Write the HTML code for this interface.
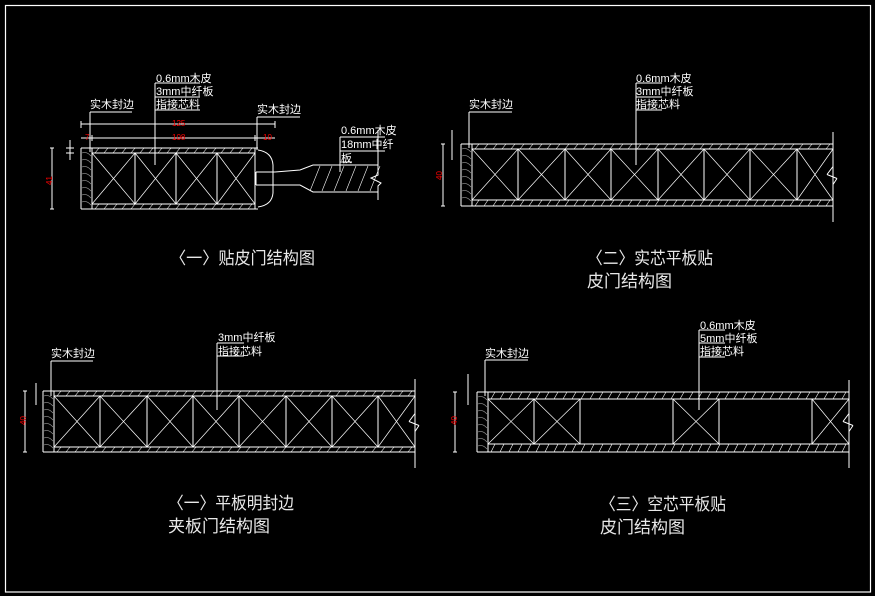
<!DOCTYPE html>
<html><head><meta charset="utf-8"><style>
html,body{margin:0;padding:0;background:#000;}
svg{display:block}
text{font-family:"Liberation Sans","Noto Sans CJK SC",sans-serif;fill:#fff}
.t{font-size:17px;fill:#e8e8e8}
.s{font-size:11px}
.r{fill:#f00;font-size:8px}
</style></head><body>
<svg id="s" width="875" height="596" viewBox="0 0 875 596" xmlns="http://www.w3.org/2000/svg">
<rect x="5.5" y="5.5" width="865" height="586.5" fill="none" stroke="#fff" stroke-width="1.2"/>
<g id="g" stroke="#fff" stroke-width="1" fill="none"></g>

<text class="s" x="156" y="82">0.6mm木皮</text>
<text class="s" x="156" y="95">3mm中纤板</text>
<text class="s" x="156" y="108">指接芯料</text>
<text class="s" x="90" y="108">实木封边</text>
<text class="s" x="257" y="113">实木封边</text>
<text class="s" x="341" y="134">0.6mm木皮</text>
<text class="s" x="341" y="148">18mm中纤</text>
<text class="s" x="341" y="162">板</text>
<text class="r" x="172" y="126">125</text>
<text class="r" x="172" y="140">108</text>
<text class="r" x="85" y="140">7</text>
<text class="r" x="263" y="140">10</text>
<text class="r" x="0" y="0" transform="translate(52,185) rotate(-90)">41</text>

<text class="s" x="636" y="82">0.6mm木皮</text>
<text class="s" x="636" y="95">3mm中纤板</text>
<text class="s" x="636" y="108">指接芯料</text>
<text class="s" x="469" y="108">实木封边</text>
<text class="r" x="0" y="0" transform="translate(442,180) rotate(-90)">40</text>

<text class="s" x="218" y="341">3mm中纤板</text>
<text class="s" x="218" y="355">指接芯料</text>
<text class="s" x="51" y="357">实木封边</text>
<text class="r" x="0" y="0" transform="translate(26,425) rotate(-90)">40</text>

<text class="s" x="700" y="329">0.6mm木皮</text>
<text class="s" x="700" y="342">5mm中纤板</text>
<text class="s" x="700" y="355">指接芯料</text>
<text class="s" x="485" y="357">实木封边</text>
<text class="r" x="0" y="0" transform="translate(457,425) rotate(-90)">40</text>

<text class="t" x="170" y="264" textLength="145" lengthAdjust="spacingAndGlyphs">〈一〉贴皮门结构图</text>
<text class="t" x="587" y="264" textLength="126" lengthAdjust="spacingAndGlyphs">〈二〉实芯平板贴</text>
<text class="t" x="587" y="287">皮门结构图</text>
<text class="t" x="168" y="509" textLength="126" lengthAdjust="spacingAndGlyphs">〈一〉平板明封边</text>
<text class="t" x="168" y="532">夹板门结构图</text>
<text class="t" x="600" y="510" textLength="126" lengthAdjust="spacingAndGlyphs">〈三〉空芯平板贴</text>
<text class="t" x="600" y="533">皮门结构图</text>
</svg>
<script>
var g=document.getElementById('g'),o='';
function L(a,b,c,d,w){o+='<line x1="'+a+'" y1="'+b+'" x2="'+c+'" y2="'+d+'"'+(w?' stroke-width="'+w+'"':'')+'/>';}
function H(x1,x2,y1,y2){for(var x=x1+3;x<x2-2;x+=9)L(x,y2,x+4,y1,0.6);}
function X(a,b,y1,y2){L(a,y1,a,y2);L(b,y1,b,y2);L(a,y1,b,y2,0.7);L(b,y1,a,y2,0.7);}
function wood(x1,x2,y1,y2){for(var y=y1+5;y<y2-2;y+=7)o+='<path stroke="#999" stroke-width="0.6" d="M'+(x1+1)+' '+y+' Q'+((x1+x2)/2)+' '+(y-2)+' '+(x2-1)+' '+(y+3)+'"/>';}
function panel(x0,xe,yt,yt2,yb2,yb,core,divs,cut,empty){
  L(x0,yt,xe,yt);L(x0,yb,xe,yb);L(core,yt2,xe,yt2);L(core,yb2,xe,yb2);
  L(x0,yt,x0,yb);L(core,yt,core,yb);
  wood(x0,core,yt,yb);
  H(core,xe,yt,yt2);H(core,xe,yb2,yb);
  for(var i=0;i<divs.length-1;i++){if(empty&&empty.indexOf(i)>=0){L(divs[i],yt2,divs[i],yb2);L(divs[i+1],yt2,divs[i+1],yb2);continue;}X(divs[i],divs[i+1],yt2,yb2);}
  var m=(yt2+yb2)/2;
  L(xe,yt2,xe,m-8);L(xe,m-8,xe-6,m);L(xe-6,m,xe+4,m+4);L(xe+4,m+4,xe,m+10);L(xe,m+10,xe,yb2);
  L(cut,yt-12,cut,yb+16);
}
L(81,148,258,148);L(81,209,258,209);L(92,153,255,153);L(92,204,255,204);
L(81,148,81,209);L(92,148,92,209);L(255,148,255,209);
wood(81,92,148,209);H(92,255,148,153);H(92,255,204,209);
var d=[92,135,176,217,255];for(var i=0;i<4;i++)X(d[i],d[i+1],153,204);
o+='<path d="M258 150 Q272 152 273 165 L273 193 Q272 205 258 207" />';
L(256,172,275,172);L(256,185,275,185);L(256,172,256,185);
o+='<path d="M275 172 L300 170 L313 165 L378 165 M275 185 L300 185 L313 192 L378 192"/>';
for(var x=310;x<375;x+=12)L(x,191,x+10,166,0.6);
o+='<path d="M378 165 L378 175 L371 178 L381 183 L378 186 L378 192 M378 192 L378 200"/>';L(378,130,378,165);
L(81,124,275,124);L(81,121,81,128);L(275,121,275,128);
L(81,138,275,138);L(92,135,92,141);L(255,135,255,141);
L(52,148,52,209);L(50,148,54,148);L(50,209,54,209);
L(70,140,70,160);L(66,148,74,148);L(66,153,74,153);
L(90,112,132,112);L(90,112,90,152);L(155,83,200,83);L(155,97,200,97);L(155,110,200,110);L(155,83,155,165);
L(257,117,300,117);L(257,117,257,150);L(340,137,385,137);L(340,151,385,151);L(340,137,340,172);L(340,162,352,162);
panel(461,833,144,149,200,206,472,[472,518,565,611,658,704,750,797,833],833);
L(469,112,512,112);L(469,112,469,148);L(636,83,662,83);L(636,97,662,97);L(636,110,662,110);L(636,83,636,165);
L(443,144,443,206);L(441,144,445,144);L(441,206,445,206);L(452,130,452,160);
panel(43,415,391,396,447,452,54,[54,100,147,193,239,286,332,378,415],415);
L(51,361,93,361);L(51,361,51,396);L(217,343,244,343);L(217,356,244,356);L(217,343,217,410);
L(25,391,25,452);L(23,391,27,391);L(23,452,27,452);L(36,383,36,405);
panel(477,849,392,399,444,452,488,[488,534,580,673,719,812,849],849,[2,4]);
L(485,360,528,360);L(485,360,485,396);L(699,330,725,330);L(699,343,725,343);L(699,357,725,357);L(699,330,699,410);
L(455,392,455,452);L(453,392,457,392);L(453,452,457,452);L(468,374,468,405);
g.innerHTML=o;
</script>
</body></html>
